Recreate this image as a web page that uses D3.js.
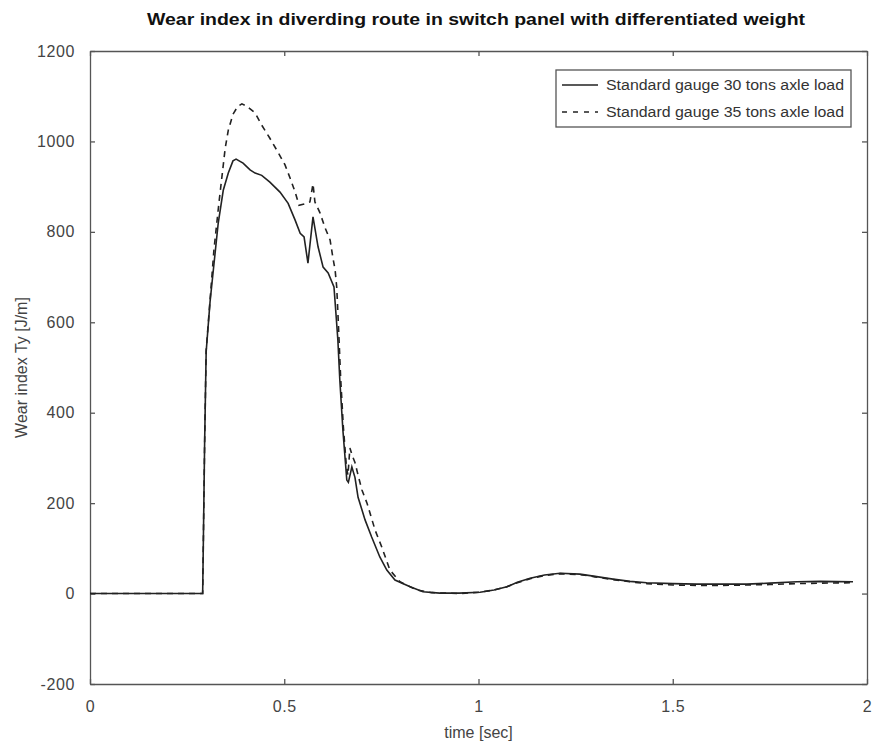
<!DOCTYPE html>
<html>
<head>
<meta charset="utf-8">
<script src="https://cdn.jsdelivr.net/npm/d3@7"></script>
<style>
    body { margin: 0; background: #fff; }
    text { font-family: "Liberation Sans", Arial, sans-serif; }
</style>
</head>
<body>
<div id="chart_container"></div>
<script>
// Values.
let x_ticks = [0, 0.5, 1, 1.5, 2];
let y_ticks = [-200, 0, 200, 400, 600, 800, 1000, 1200];
let series_names = ["Standard gauge 30 tons axle load", "Standard gauge 35 tons axle load"];

let t_30 = [0, 0.290, 0.292, 0.295, 0.299, 0.309, 0.318, 0.330, 0.343, 0.356, 0.368, 0.376, 0.394,
    0.412, 0.425, 0.442, 0.463, 0.489, 0.510, 0.528, 0.541, 0.551, 0.561, 0.574, 0.587, 0.600,
    0.613, 0.628, 0.633, 0.638, 0.643, 0.651, 0.661, 0.665, 0.674, 0.682, 0.690, 0.708, 0.725,
    0.746, 0.764, 0.785, 0.824, 0.857, 0.900, 0.950, 1.004, 1.040, 1.073, 1.100, 1.133, 1.170,
    1.210, 1.261, 1.300, 1.346, 1.390, 1.433, 1.500, 1.562, 1.620, 1.691, 1.750, 1.820, 1.880, 1.964];
let wear_30 = [0, 0, 130, 330, 535, 645, 720, 819, 892, 930, 957, 961, 952,
    937, 930, 925, 910, 888, 863, 826, 797, 789, 731, 833, 767, 722,
    709, 678, 620, 561, 473, 361, 251, 246, 280, 257, 213, 163, 125,
    81, 52, 30, 15, 4, 1, 1, 3, 8, 15, 25, 34, 41,
    45, 43, 38, 32, 27, 24, 22, 21, 21, 21, 23, 26, 27, 26];

let t_35 = [0, 0.290, 0.292, 0.295, 0.299, 0.309, 0.319, 0.332, 0.340, 0.348, 0.356, 0.368, 0.380,
    0.391, 0.403, 0.425, 0.442, 0.463, 0.484, 0.502, 0.515, 0.528, 0.538, 0.553, 0.566, 0.574,
    0.579, 0.592, 0.605, 0.618, 0.625, 0.631, 0.635, 0.637, 0.640, 0.645, 0.652, 0.660, 0.664,
    0.669, 0.675, 0.682, 0.690, 0.700, 0.713, 0.734, 0.751, 0.772, 0.798, 0.841, 0.880, 0.950,
    1.004, 1.040, 1.073, 1.100, 1.133, 1.170, 1.210, 1.261, 1.300, 1.346, 1.390, 1.433, 1.500,
    1.562, 1.620, 1.691, 1.750, 1.820, 1.880, 1.964];
let wear_35 = [0, 0, 130, 330, 538, 649, 760, 865, 925, 985, 1025, 1060, 1077,
    1083, 1078, 1063, 1036, 1007, 976, 948, 919, 888, 859, 862, 866, 906,
    866, 842, 809, 782, 744, 715, 678, 642, 583, 480, 370, 280, 262,
    322, 305, 290, 262, 229, 200, 140, 103, 52, 26, 8, 2, 0,
    3, 8, 15, 24, 33, 40, 44, 42, 37, 31, 26, 22, 19,
    18, 18, 19, 20, 22, 23, 24];

let width = 873, height = 746;
let margin = {left: 90, right: 6, top: 51, bottom: 62};
let plot_w = width - margin.left - margin.right;
let plot_h = height - margin.top - margin.bottom;

let svg = d3.select("#chart_container").append("svg")
    .attr("width", width)
    .attr("height", height);

let x = d3.scaleLinear().domain([0, 2]).range([margin.left, margin.left + plot_w]);
let y = d3.scaleLinear().domain([-200, 1200]).range([margin.top + plot_h, margin.top]);

let axis_color = "#555";
let tick_len = 5;
let plain = d => String(d);   // keep the ASCII hyphen in "-200"

// Axes on all four sides, ticks pointing inward (Octave style box).
let bottom = svg.append("g")
    .attr("transform", "translate(0," + y(-200) + ")")
    .call(d3.axisBottom(x).tickValues(x_ticks).tickFormat(plain).tickSizeInner(-tick_len).tickSizeOuter(0).tickPadding(17));
let top_axis = svg.append("g")
    .attr("transform", "translate(0," + y(1200) + ")")
    .call(d3.axisTop(x).tickValues(x_ticks).tickFormat("").tickSizeInner(-tick_len).tickSizeOuter(0));
let left = svg.append("g")
    .attr("transform", "translate(" + x(0) + ",0)")
    .call(d3.axisLeft(y).tickValues(y_ticks).tickFormat(plain).tickSizeInner(-tick_len).tickSizeOuter(0).tickPadding(15));
let right = svg.append("g")
    .attr("transform", "translate(" + x(2) + ",0)")
    .call(d3.axisRight(y).tickValues(y_ticks).tickFormat("").tickSizeInner(-tick_len).tickSizeOuter(0));

[bottom, top_axis, left, right].forEach(function(g) {
    g.select(".domain").attr("stroke", axis_color).attr("stroke-width", 1.3);
    g.selectAll(".tick line").attr("stroke", axis_color).attr("stroke-width", 1.3);
    g.selectAll(".tick text")
        .attr("fill", "#444")
        .style("font-size", "16px")
        .style("letter-spacing", "0.6px");
});

// Data lines.
let line = d3.line()
    .x(d => x(d[0]))
    .y(d => y(d[1]));

let data_30 = t_30.map((t, i) => [t, wear_30[i]]);
let data_35 = t_35.map((t, i) => [t, wear_35[i]]);

svg.append("path")
    .datum(data_35)
    .attr("d", line)
    .attr("fill", "none")
    .attr("stroke", "#222")
    .attr("stroke-width", 1.6)
    .attr("stroke-dasharray", "6,5");

svg.append("path")
    .datum(data_30)
    .attr("d", line)
    .attr("fill", "none")
    .attr("stroke", "#222")
    .attr("stroke-width", 1.6);

// Title and axis labels.
svg.append("text")
    .attr("x", 476)
    .attr("y", 25)
    .attr("text-anchor", "middle")
    .attr("textLength", 658)
    .attr("lengthAdjust", "spacingAndGlyphs")
    .style("font-size", "16px")
    .style("font-weight", "bold")
    .attr("fill", "#111")
    .text("Wear index in diverding route in switch panel with differentiated weight");

svg.append("text")
    .attr("x", x(1))
    .attr("y", 738)
    .attr("text-anchor", "middle")
    .style("font-size", "16px")
    .attr("fill", "#444")
    .text("time [sec]");

svg.append("text")
    .attr("transform", "translate(27," + y(500) + ") rotate(-90)")
    .attr("text-anchor", "middle")
    .style("font-size", "16px")
    .attr("fill", "#444")
    .text("Wear index Ty [J/m]");

// Legend.
let legend = svg.append("g");
legend.append("rect")
    .attr("x", 556)
    .attr("y", 70)
    .attr("width", 295)
    .attr("height", 57)
    .attr("fill", "#fff")
    .attr("stroke", "#555")
    .attr("stroke-width", 1.3);

let dashes = [null, "5,6"];
series_names.forEach(function(name, i) {
    let row_y = 85 + i * 27;
    legend.append("line")
        .attr("x1", 562).attr("x2", 598)
        .attr("y1", row_y).attr("y2", row_y)
        .attr("stroke", "#222")
        .attr("stroke-width", 1.6)
        .attr("stroke-dasharray", dashes[i]);
    legend.append("text")
        .attr("x", 606)
        .attr("y", row_y + 5)
        .attr("textLength", 238)
        .attr("lengthAdjust", "spacingAndGlyphs")
        .style("font-size", "14px")
        .attr("fill", "#333")
        .text(name);
});
</script>
</body>
</html>
